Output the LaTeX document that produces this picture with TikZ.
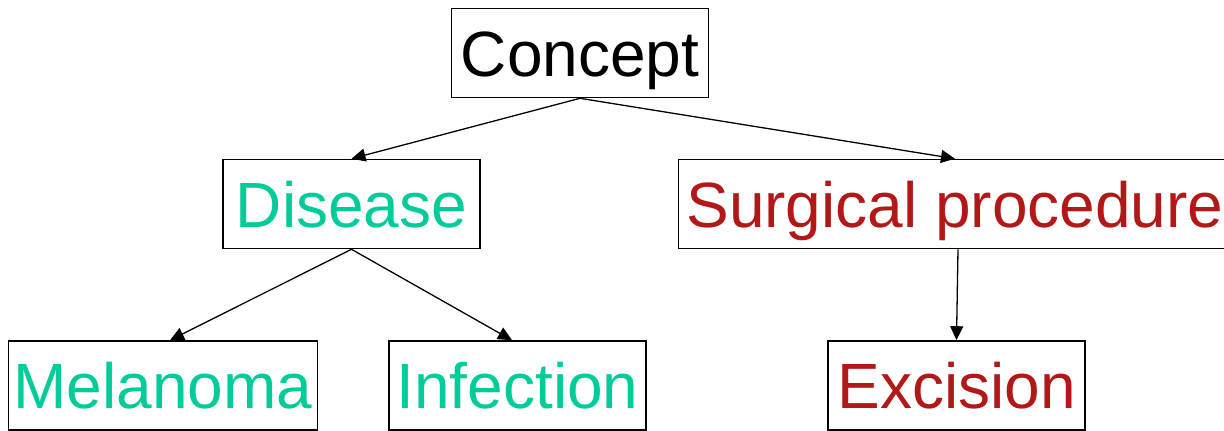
\documentclass[tikz,border=0pt]{standalone}
\usepackage{fontspec}
\setmainfont{Liberation Sans}
\usepackage{tikz}
\usetikzlibrary{arrows.meta, % for the filled tips
                positioning}

\definecolor{diseasegreen}{RGB}{0,204,153}
\definecolor{surgeryred}{RGB}{178,24,24}

\begin{document}
\begin{tikzpicture}[x=1pt, y=-1pt,
                    Term/.style={draw, line width=1.6pt, inner xsep=5pt, inner ysep=0pt,
                                 minimum width=257pt, minimum height=89pt,
                                 text height=46pt, text depth=0pt,
                                 font=\fontsize{64}{70}\selectfont},
                    isa/.style={-{Triangle[length=14pt, width=13pt]}, line width=1.3pt}
                    ]

    \useasboundingbox (0,0) rectangle (1224,431);

    % TOP %
    \node[Term] at (580,53) (concept){Concept};

    % MIDDLE %
    \node[Term, text=diseasegreen] at (351.5,204) (disease){Disease};
    \node[Term, text=surgeryred, minimum width=553pt] at (955,204) (surgical){Surgical procedure};

    % BOTTOM %
    \node[Term, text=diseasegreen] at (163,385.5) (melanoma){Melanoma};
    \node[Term, text=diseasegreen] at (517.5,385.5) (infection){Infection};
    \node[Term, text=surgeryred] at (956.5,385.5) (excision){Excision};

    % ARROWS %
    \draw[isa] (concept.south) -- (disease.north);
    \draw[isa] (concept.south) -- (surgical.north);
    \draw[isa] (disease.south) -- ([xshift=7pt]melanoma.north);
    \draw[isa] (disease.south) -- ([xshift=-5.5pt]infection.north);
    \draw[isa] ([xshift=3pt]surgical.south) -- (excision.north);
\end{tikzpicture}
\end{document}
